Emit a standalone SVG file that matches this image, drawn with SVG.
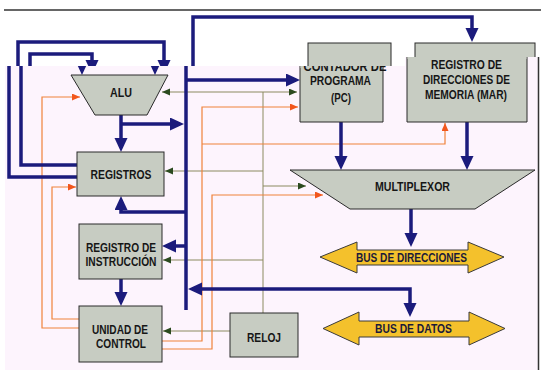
<svg xmlns="http://www.w3.org/2000/svg" width="544" height="370" viewBox="0 0 544 370">
<style>
.box{fill:#c7ccc2;stroke:#2a2a2a;stroke-width:1}
.t{font-family:"Liberation Sans",Arial,sans-serif;font-weight:bold;font-size:12.5px;fill:#161616;text-anchor:middle}
.bl{fill:none;stroke:#1b1b7c;stroke-width:3.5}
.ol{fill:none;stroke:#8b8a60;stroke-width:1}
.or{fill:none;stroke:#f0813a;stroke-width:1.2}
.bus{fill:#f4c12c;stroke:#3a3a3a;stroke-width:1}
.bt{font-family:"Liberation Sans",Arial,sans-serif;font-weight:bold;font-size:12.5px;fill:#1a1a3a;text-anchor:middle}
</style>
<defs>
<marker id="ab" markerUnits="userSpaceOnUse" markerWidth="16" markerHeight="16" refX="10" refY="6.5" orient="auto-start-reverse"><path d="M0,0 L14,6.5 L0,13 z" fill="#1b1b7c"/></marker>
<marker id="ao" markerUnits="userSpaceOnUse" markerWidth="10" markerHeight="10" refX="8" refY="3.5" orient="auto-start-reverse"><path d="M0,0 L8,3.5 L0,7 z" fill="#2b4a1f"/></marker>
<marker id="ar" markerUnits="userSpaceOnUse" markerWidth="10" markerHeight="10" refX="8" refY="3.5" orient="auto-start-reverse"><path d="M0,0 L8,3.5 L0,7 z" fill="#f2561d"/></marker>
<clipPath id="pk"><rect x="0" y="66" width="544" height="304"/></clipPath>
</defs>
<rect width="544" height="370" fill="#ffffff"/>
<g id="back-scan">
<path d="M4,10 H541" stroke="#333" stroke-width="1.5" fill="none"/>
<rect class="box" x="308" y="43" width="83" height="30"/>
<rect class="box" x="415" y="43" width="120" height="30"/>
<path class="bl" d="M193,70 V17 H472 V38" marker-end="url(#ab)"/>
<path class="bl" d="M18,70 V42 H164 V70" marker-end="url(#ab)"/>
<path class="bl" d="M30,70 V54 H92 V70" marker-end="url(#ab)"/>
</g>
<path id="panel" d="M5,66 H405 V57 H538 V370 H5 Z" fill="#fdf4fd"/>
<path d="M538.5,57 V370" stroke="#333" stroke-width="1.5"/>
<g id="connectors">
<g clip-path="url(#pk)">
<path class="bl" d="M82,55 V71" marker-end="url(#ab)"/>
<path class="bl" d="M155,55 V71" marker-end="url(#ab)"/>
</g>
<path class="ol" d="M263,92 V313"/>
<path class="ol" d="M162,92 H297" marker-start="url(#ao)" marker-end="url(#ao)"/>
<path class="ol" d="M263,171 H165" marker-end="url(#ao)"/>
<path class="ol" d="M263,186 H306" marker-end="url(#ao)"/>
<path class="ol" d="M263,260 H163" marker-end="url(#ao)"/>
<path class="ol" d="M230,331 H163" marker-end="url(#ao)"/>
<path class="or" d="M162,341 H202 V107 H298" marker-end="url(#ar)"/>
<path class="or" d="M202,144 H445 V123" marker-end="url(#ar)"/>
<path class="or" d="M162,349 H212 V195 H323" marker-end="url(#ar)"/>
<path class="or" d="M79,328 H42 V97 H80" marker-end="url(#ar)"/>
<path class="or" d="M79,319 H52 V187 H76" marker-end="url(#ar)"/>
<path class="bl" d="M186,66 V310"/>
<path class="bl" d="M9,66 V177 H77"/>
<path class="bl" d="M21,66 V165 H77"/>
<path class="bl" d="M186,80 H296" marker-end="url(#ab)"/>
<path class="bl" d="M121,115 V148" marker-end="url(#ab)"/>
<path class="bl" d="M121,124 H180" marker-end="url(#ab)"/>
<path class="bl" d="M186,212 H121 V200" marker-end="url(#ab)"/>
<path class="bl" d="M186,246 H166" marker-end="url(#ab)"/>
<path class="bl" d="M121,279 V302" marker-end="url(#ab)"/>
<path class="bl" d="M192,289 H410 V313" marker-start="url(#ab)" marker-end="url(#ab)"/>
<path class="bl" d="M341,122 V166" marker-end="url(#ab)"/>
<path class="bl" d="M467,122 V166" marker-end="url(#ab)"/>
<path class="bl" d="M411,209 V243" marker-end="url(#ab)"/>
</g>
<g id="alu">
<path class="box" d="M71,75 H168 L147,115 H95 Z"/>
<text class="t" x="121" y="96.5" textLength="22" lengthAdjust="spacingAndGlyphs">ALU</text>
</g>
<g id="registros">
<rect class="box" x="77" y="152" width="87" height="44"/>
<text class="t" x="121" y="178.5" textLength="61" lengthAdjust="spacingAndGlyphs">REGISTROS</text>
</g>
<g id="registro-instruccion">
<rect class="box" x="79" y="224" width="83" height="55"/>
<text class="t" x="121" y="251.5" textLength="70" lengthAdjust="spacingAndGlyphs">REGISTRO DE</text>
<text class="t" x="121" y="265.5" textLength="71" lengthAdjust="spacingAndGlyphs">INSTRUCCIÓN</text>
</g>
<g id="unidad-control">
<rect class="box" x="79" y="306" width="83" height="56"/>
<text class="t" x="120" y="333.5" textLength="56" lengthAdjust="spacingAndGlyphs">UNIDAD DE</text>
<text class="t" x="121" y="347.5" textLength="50" lengthAdjust="spacingAndGlyphs">CONTROL</text>
</g>
<g id="reloj">
<rect class="box" x="230" y="313" width="68" height="44"/>
<text class="t" x="264" y="341.5" textLength="34" lengthAdjust="spacingAndGlyphs">RELOJ</text>
</g>
<g id="pc">
<path class="box" d="M300,66 V122 H383 V66"/>
<rect x="300.5" y="66" width="82" height="2" fill="#c7ccc2"/>
<text class="t" x="345" y="70.5" textLength="83" lengthAdjust="spacingAndGlyphs" clip-path="url(#pk)">CONTADOR DE</text>
<text class="t" x="340.5" y="84.5" textLength="61" lengthAdjust="spacingAndGlyphs">PROGRAMA</text>
<text class="t" x="341" y="101.5" textLength="20" lengthAdjust="spacingAndGlyphs">(PC)</text>
</g>
<g id="mar">
<path class="box" d="M407,57 V122 H527 V57"/>
<rect x="407.5" y="57" width="119" height="2" fill="#c7ccc2"/>
<text class="t" x="466.5" y="68.5" textLength="71" lengthAdjust="spacingAndGlyphs">REGISTRO DE</text>
<text class="t" x="466.5" y="83.5" textLength="87" lengthAdjust="spacingAndGlyphs">DIRECCIONES DE</text>
<text class="t" x="466" y="98.5" textLength="82" lengthAdjust="spacingAndGlyphs">MEMORIA (MAR)</text>
</g>
<g id="multiplexor">
<path class="box" d="M290,170 H535 L475,209 H350 Z"/>
<text class="t" x="412.5" y="190.5" textLength="75" lengthAdjust="spacingAndGlyphs">MULTIPLEXOR</text>
</g>
<g id="bus-direcciones">
<path class="bus" d="M320,257 L357,242 V250 H468 V242 L504,257 L468,273 V265 H357 V273 Z"/>
<text class="bt" x="411.5" y="261.5" textLength="111" lengthAdjust="spacingAndGlyphs">BUS DE DIRECCIONES</text>
</g>
<g id="bus-datos">
<path class="bus" d="M323,328.5 L359,312 V321 H469 V312 L505,328.5 L469,345 V337 H359 V345 Z"/>
<text class="bt" x="413.5" y="333" textLength="77" lengthAdjust="spacingAndGlyphs">BUS DE DATOS</text>
</g>
</svg>
